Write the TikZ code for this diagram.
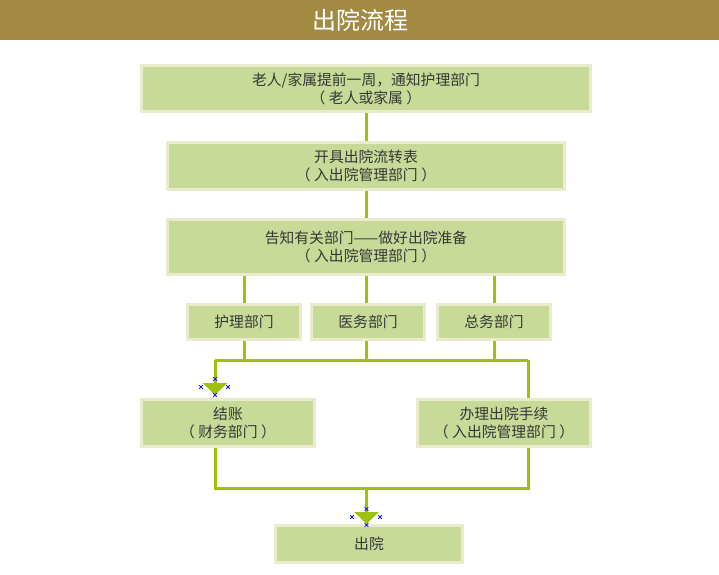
\documentclass[tikz,border=0pt]{standalone}
\usepackage{fontspec}
\setmainfont{Noto Sans CJK SC}
\usetikzlibrary{arrows.meta}
\definecolor{barc}{HTML}{A38A42}
\definecolor{boxf}{HTML}{C7DA98}
\definecolor{boxb}{HTML}{E9EBCC}
\definecolor{linec}{HTML}{9EC10C}
\definecolor{txtc}{HTML}{363636}
\definecolor{mkc}{HTML}{1A1AFF}
\newcommand{\lp}{\kern-3.5pt（\kern3.5pt}
\newcommand{\rp}{\kern3.5pt）\kern-3.5pt}
\begin{document}
\begin{tikzpicture}[x=1pt,y=-1pt,
  box/.style={draw=boxb,fill=boxf,line width=3pt,inner sep=0pt,align=center,
    text=txtc,font=\fontsize{14.8}{18}\selectfont},
  conn/.style={draw=linec,line width=3pt},
  arr/.style={conn,-{Triangle[width=24pt,length=12pt]},shorten >=3pt},
  mk/.style={draw=mkc,line width=0.9pt}]
\useasboundingbox (0,0) rectangle (719,574);
\fill[barc] (0,0) rectangle (719,40);
\node[text=white,font=\fontsize{24}{26}\selectfont] (title) at (360,20) {出院流程};

\node[box,minimum width=449pt,minimum height=46pt] (b1) at (366,88.5) {老人/家属提前一周，通知护理部门\\\lp 老人或家属\rp};
\node[box,minimum width=397pt,minimum height=47pt] (b2) at (366,166) {开具出院流转表\\\lp 入出院管理部门\rp};
\node[box,minimum width=397pt,minimum height=55pt] (b3) at (366,247) {告知有关部门——做好出院准备\\\lp 入出院管理部门\rp};
\node[box,minimum width=113pt,minimum height=35pt] (s1) at (244,322) {护理部门};
\node[box,minimum width=113pt,minimum height=35pt] (s2) at (368,322) {医务部门};
\node[box,minimum width=113pt,minimum height=35pt] (s3) at (494,322) {总务部门};
\node[box,minimum width=173pt,minimum height=47pt] (l) at (228,423) {结账\\\lp 财务部门\rp};
\node[box,minimum width=173pt,minimum height=47pt] (r) at (504,423) {办理出院手续\\\lp 入出院管理部门\rp};
\node[box,minimum width=187pt,minimum height=37pt] (e) at (369,544) {出院};

\coordinate (c2) at (366.5,0);
\coordinate (h1) at (0,360);
\coordinate (xl) at (215,0);
\coordinate (xr) at (528,0);
\coordinate (h2) at (0,488);

\draw[conn] (b1.south -| c2) -- (b2.north -| c2);
\draw[conn] (b2.south -| c2) -- (b3.north -| c2);
\draw[conn] (b3.south -| s1) -- (s1.north);
\draw[conn] (b3.south -| c2) -- (s2.north -| c2);
\draw[conn] (b3.south -| s3) -- (s3.north);
\draw[conn] (s1.south) -- (s1 |- h1);
\draw[conn] (s2.south -| c2) -- (c2 |- h1);
\draw[conn] (s3.south) -- (s3 |- h1);
\draw[conn] (xl |- h1) -- (xr |- h1);
\draw[arr] (xl |- h1) -- (l.north -| xl);
\draw[conn] (xr |- h1) -- (r.north -| xr);
\draw[conn] (l.south -| xl) -- (xl |- h2) -- (xr |- h2) -- (r.south -| xr);
\draw[arr,shorten >=0pt] (c2 |- h2) -- (e.north -| c2);

\foreach \p in {(215,379),(201,387),(228,387),(215,395),(366.5,509),(352,517),(380,517),(366.5,525)}{
  \draw[mk] \p ++(-1.8,-1.8) -- ++(3.6,3.6) \p ++(-1.8,1.8) -- ++(3.6,-3.6);
}
\end{tikzpicture}
\end{document}
